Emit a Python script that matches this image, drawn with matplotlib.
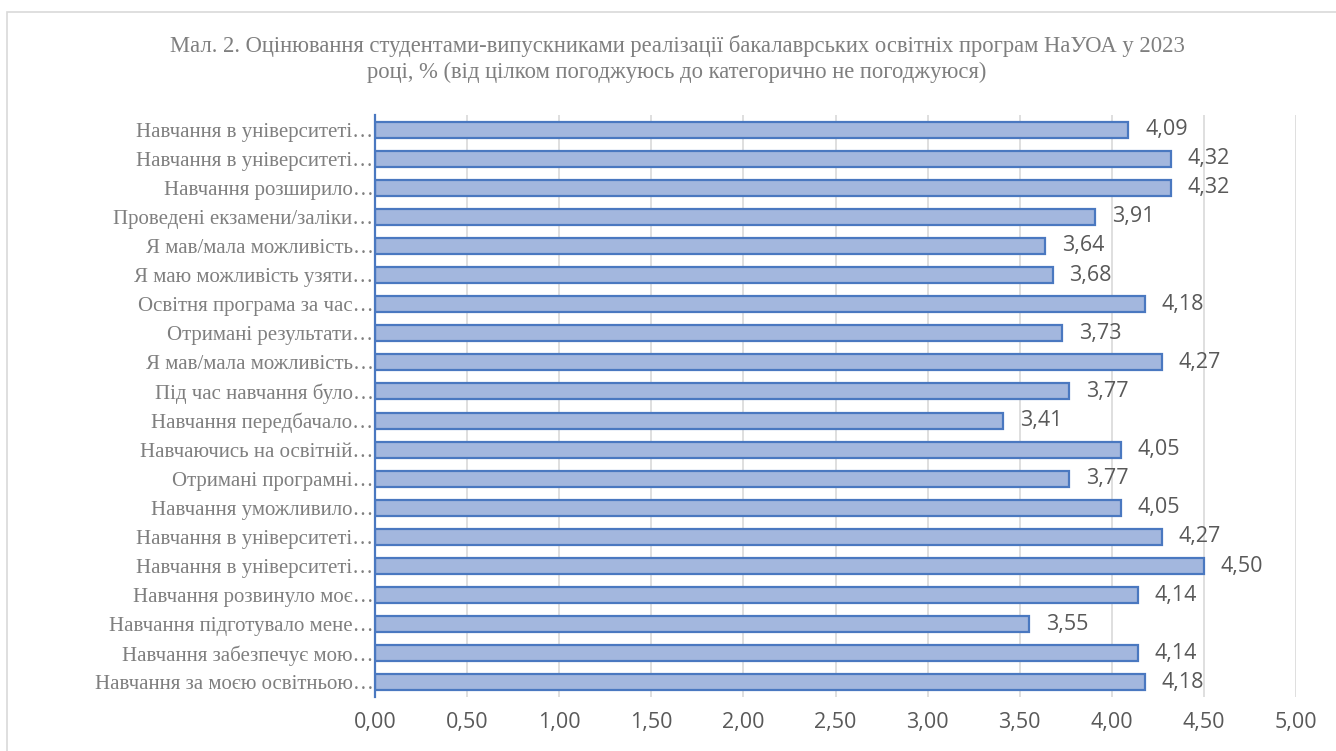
"""Bar chart: graduate evaluation of bachelor programmes, 2023."""

import matplotlib.pyplot as plt
from matplotlib.patches import Rectangle
from matplotlib.ticker import FuncFormatter, MultipleLocator

categories = [
    "Навчання в університеті…",
    "Навчання в університеті…",
    "Навчання розширило…",
    "Проведені екзамени/заліки…",
    "Я мав/мала можливість…",
    "Я маю можливість узяти…",
    "Освітня програма за час…",
    "Отримані результати…",
    "Я мав/мала можливість…",
    "Під час навчання було…",
    "Навчання передбачало…",
    "Навчаючись на освітній…",
    "Отримані програмні…",
    "Навчання уможливило…",
    "Навчання в університеті…",
    "Навчання в університеті…",
    "Навчання розвинуло моє…",
    "Навчання підготувало мене…",
    "Навчання забезпечує мою…",
    "Навчання за моєю освітньою…",
]
scores = [4.09, 4.32, 4.32, 3.91, 3.64, 3.68, 4.18, 3.73, 4.27, 3.77,
          3.41, 4.05, 3.77, 4.05, 4.27, 4.50, 4.14, 3.55, 4.14, 4.18]

title = ("Мал. 2. Оцінювання студентами-випускниками реалізації бакалаврських освітніх програм НаУОА у 2023\n"
         "році, % (від цілком погоджуюсь до категорично не погоджуюся)")

fig = plt.figure(figsize=(13.36, 7.51), dpi=100)
fig.patches.append(Rectangle((7 / 1336, -0.05), 1.0, 1 - 12 / 751 + 0.05,
                             transform=fig.transFigure, fill=False,
                             edgecolor="#d9d9d9", linewidth=1.2))
ax = fig.add_axes([375 / 1336, 54 / 751, 921 / 1336, 582 / 751])

ypos = list(range(len(categories)))
bars = ax.barh(ypos, scores, height=0.55, color="#a3b7de",
               edgecolor="#4a78c0", linewidth=1.6, zorder=3)
ax.bar_label(bars, labels=[f"{v:.2f}".replace(".", ",") for v in scores],
             padding=12, fontsize=15.5, color="#595959", family="Open Sans")

ax.set_xlim(0, 5)
ax.set_ylim(len(categories) - 0.5, -0.5)
ax.xaxis.set_major_locator(MultipleLocator(0.5))
ax.xaxis.set_major_formatter(FuncFormatter(lambda v, _: f"{v:.2f}".replace(".", ",")))
ax.set_yticks(ypos)
ax.set_yticklabels(categories, family="Liberation Serif", fontsize=15, color="#7f7f7f")
for lbl in ax.get_xticklabels():
    lbl.set_family("Open Sans")
    lbl.set_fontsize(15.5)
    lbl.set_color("#595959")
ax.tick_params(axis="both", length=0)
ax.tick_params(axis="x", pad=11)
ax.tick_params(axis="y", pad=1)
ax.grid(axis="x", color="#d9d9d9", linewidth=1.2, zorder=0)
for side in ("top", "right", "bottom"):
    ax.spines[side].set_visible(False)
ax.spines["left"].set_color("#4a78c0")
ax.spines["left"].set_linewidth(1.6)
ax.spines["left"].set_zorder(4)

fig.text(677 / 1336, 1 - 59 / 751, title, ha="center", va="center", family="Liberation Serif",
         fontsize=16.3, color="#7f7f7f", linespacing=1.3)

fig.savefig("out.png", dpi=100)
plt.close(fig)
